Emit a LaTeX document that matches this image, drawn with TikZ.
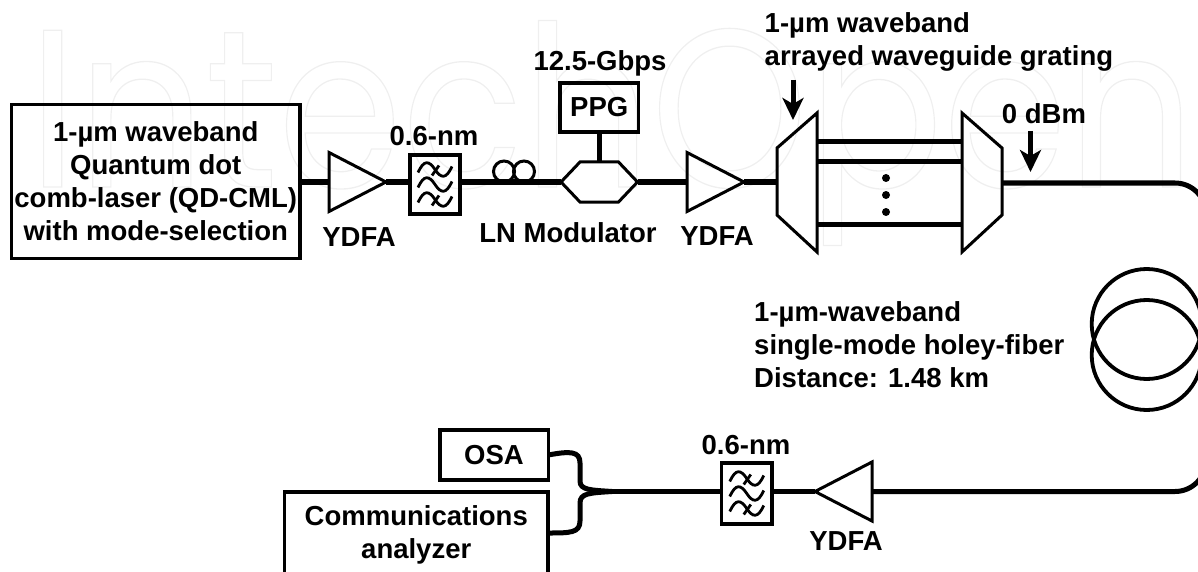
\documentclass[tikz,border=0pt]{standalone}
\usepackage{fontspec}
\setmainfont{Liberation Sans}
\newfontfamily\markfont{Poppins}
\usetikzlibrary{arrows.meta}
\usetikzlibrary{shapes.geometric}
\usetikzlibrary{shapes.symbols}
\definecolor{markgray}{HTML}{EFEFEF}

\tikzset{
    lbl/.style={font=\fontsize{27.5}{33}\selectfont\bfseries,align=center,inner sep=0},
    fiber/.style={line width=5pt},
    boxnode/.style={draw,line width=3.5pt,outer sep=0,inner sep=0,rectangle},
    ampnode/.style={draw,line width=3pt,outer sep=0,inner sep=0,isosceles triangle,isosceles triangle stretches,minimum width=59pt,minimum height=57pt},
    loopnode/.style={draw,line width=3pt,outer sep=0,inner sep=0,circle,minimum size=21pt},
    coilnode/.style={draw,line width=3.8pt,outer sep=0,inner sep=0,circle,minimum size=110pt},
    modnode/.style={draw,line width=3pt,outer sep=0,inner sep=0,signal,signal to=east and west,signal pointer angle=93,minimum width=76.5pt,minimum height=40pt},
    pointer/.style={line width=5pt,-{Stealth[length=22pt,width=21pt,inset=6pt]}},
    filterwaves/.pic={
        \foreach \w in {-15,0,15}
            \draw[line width=2.8pt] (-17,\w+3) .. controls (-11,\w-10) and (-6,\w-9) .. (0,\w) .. controls (6,\w+9) and (11,\w+10) .. (17,\w-3);
        \foreach \w in {-15,15}
            \draw[line width=2.8pt] (-3,\w+6) -- (4,\w-4);
    }
}

\begin{document}
\begin{tikzpicture}[x=1pt,y=-1pt]
    \useasboundingbox (0,0) rectangle (1198,572);
    \clip (0,0) rectangle (1198,572);
    \node[anchor=base west,inner sep=0,text=markgray,font=\markfont\fontsize{225}{225}\selectfont] (mark) at (28,187) {\scalebox{0.888}[1]{\special{pdf:code 1 Tr 1.3 w}IntechOpen\special{pdf:code 0 Tr}}};

    \node[boxnode,minimum width=288.5pt,minimum height=154pt,lbl] (laser) at (155.75,181.5) {1-µm waveband\\Quantum dot\\comb-laser (QD-CML)\\with mode-selection};
    \node[ampnode,anchor=lower side] (ampa) at (329,182) {};
    \node[boxnode,minimum width=50pt,minimum height=59pt] (bpfa) at (435,184.5) {};
    \node[loopnode] (loopa) at (504,171.5) {};
    \node[loopnode] (loopb) at (524,171.5) {};
    \node[modnode] (lnmod) at (599.25,182) {};
    \node[boxnode,minimum width=78.5pt,minimum height=49pt,lbl] (ppg) at (599.25,107.5) {PPG};
    \node[ampnode,anchor=lower side] (ampb) at (687,182) {};

    \draw[line width=3pt] (777,148) -- (817,113) -- (817,252) -- (777,215) -- cycle;
    \draw[line width=3pt] (962,113) -- (1002,148) -- (1002,215) -- (962,252) -- cycle;
    \coordinate (awgin) at (777,182);
    \coordinate (awgout) at (1002,183);
    \foreach \y/\n in {142/a,162/b,224/c} {
        \coordinate (left\n) at (817,\y);
        \coordinate (right\n) at (962,\y);
        \draw[fiber] (left\n) -- (right\n);
    }
    \foreach \y in {178,195,212}
        \fill (886,\y) circle (4);

    \node[coilnode] (coila) at (1146.7,324) {};
    \node[coilnode] (coilb) at (1146.7,355) {};
    \node[ampnode,anchor=lower side,shape border rotate=180] (ampc) at (872,491.5) {};
    \node[boxnode,minimum width=50.5pt,minimum height=61pt] (bpfb) at (746.75,493.5) {};
    \node[boxnode,minimum width=108.5pt,minimum height=50pt,lbl] (osa) at (494,455) {OSA};
    \node[boxnode,minimum width=263.5pt,minimum height=85pt,lbl] (comm) at (416.25,534.5) {Communications\\analyzer};
    \coordinate (merge) at (612,491.5);

    \pic at (bpfa) {filterwaves};
    \pic at (bpfb) {filterwaves};

    \draw[fiber] (laser.east |- ampa.lower side) -- (ampa.lower side);
    \draw[fiber] (ampa.apex) -- (bpfa.west |- ampa.apex);
    \draw[fiber] (bpfa.east |- lnmod.west) -- (lnmod.west);
    \draw[fiber] (lnmod.east) -- (ampb.lower side);
    \draw[fiber] (ppg.south) -- (lnmod.north);
    \draw[fiber] (ampb.apex) -- (awgin);
    \draw[fiber,rounded corners=31pt] (awgout) -- (1206,183) -- (1206,491.5) -- (ampc.lower side);
    \draw[fiber] (ampc.apex) -- (bpfb.east |- ampc.apex);
    \draw[fiber] (bpfb.west |- merge) -- (merge);
    \draw[fiber] (osa.east) .. controls (570,451) and (580,451) .. (580,463) -- (580,481) .. controls (580,490) and (590,490) .. (merge);
    \draw[fiber] (comm.east |- 0,533) .. controls (570,533) and (580,533) .. (580,521) -- (580,503) .. controls (580,493) and (590,493) .. (merge);

    \coordinate (awgtail) at (793,80);
    \coordinate (awgtip) at (793,120);
    \coordinate (dbmtail) at (1030.5,131);
    \coordinate (dbmtip) at (1030.5,172);
    \draw[pointer] (awgtail) -- (awgtip);
    \draw[pointer] (dbmtail) -- (dbmtip);

    \node[lbl] (bwa) at (434,136) {0.6-nm};
    \node[lbl] (ydfaa) at (359,237) {YDFA};
    \node[lbl] (lnlabel) at (568,233) {LN Modulator};
    \node[lbl] (rate) at (600,63) {12.5-Gbps};
    \node[lbl] (ydfab) at (717,236) {YDFA};
    \node[lbl,align=left,anchor=west] (awglabel) at (764.5,42) {1-µm waveband\\arrayed waveguide grating};
    \node[lbl] (power) at (1044,114) {0 dBm};
    \node[lbl,align=left,anchor=west] (hfiber) at (754,345) {1-µm-waveband\\single-mode holey-fiber\\Distance: 1.48 km};
    \node[lbl] (bwb) at (746,445) {0.6-nm};
    \node[lbl] (ydfac) at (846,541) {YDFA};
\end{tikzpicture}
\end{document}
